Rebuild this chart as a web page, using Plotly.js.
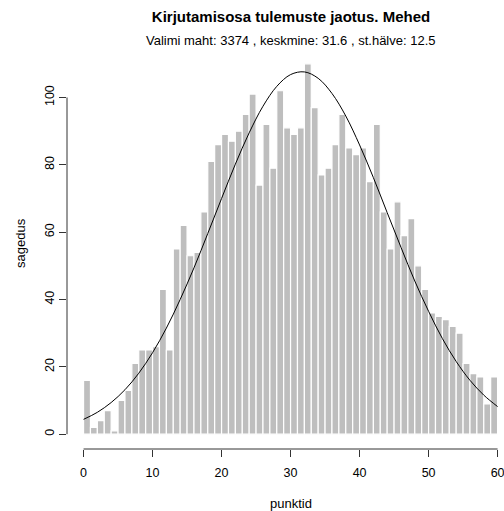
<!DOCTYPE html>
<html>
<head>
<meta charset="utf-8">
<script src="https://cdn.plot.ly/plotly-3.0.1.min.js"></script>
<style>html,body{margin:0;padding:0;background:#fff;}#chart{width:504px;height:511px;}</style>
</head>
<body>
<div id="chart"></div>
<script>
// Histogram bins: left edges (width 1 point each)
const binStart = [0,1,2,3,4,5,6,7,8,9,10,11,12,13,14,15,16,17,18,19,20,21,22,23,24,25,26,27,28,29,
                  30,31,32,33,34,35,36,37,38,39,40,41,42,43,44,45,46,47,48,49,50,51,52,53,54,55,56,57,58,59];
// Frequencies (sagedus); total 3374
const counts = [16,2,4,7,1,10,13,21,25,25,26,43,25,55,62,53,54,66,81,
                86,89,87,90,95,101,74,92,79,102,91,89,91,110,97,77,79,86,95,85,
                83,85,75,92,66,55,69,59,64,50,43,36,35,34,32,30,21,18,17,9,17];
// Fitted normal curve
const curveX = [0,2,4,6,8,10,12,14,16,18,20,22,24,26,28,30,32,34,36,38,40,42,44,46,48,50,52,54,56,58,60];
const curveY = [4.4,6.5,9.4,13.2,18.1,24.2,31.5,40.0,49.4,59.6,70.0,80.2,89.5,97.4,103.3,106.8,107.6,105.7,101.2,94.5,85.9,76.2,65.8,55.5,45.5,36.5,28.4,21.6,16.0,11.6,8.2];
const xTicks = [0,10,20,30,40,50,60];
const yTicks = [0,20,40,60,80,100];
const titleText = "Kirjutamisosa tulemuste jaotus. Mehed";
const subtitleText = "Valimi maht: 3374 , keskmine: 31.6 , st.hälve: 12.5";
const xLabel = "punktid";
const yLabel = "sagedus";

const FONT = "Liberation Sans, Arial, sans-serif";

const traces = [
  {type:'bar', x:binStart, y:counts, offset:0, width:1,
   marker:{color:'#BEBEBE', line:{color:'#FFFFFF', width:1.2}}, hoverinfo:'x+y'},
  {type:'scatter', mode:'lines', x:curveX, y:curveY, line:{color:'#000', width:1, shape:'spline'}}
];

const layout = {
  width:504, height:511,
  margin:{l:67, r:0, t:49, b:62, pad:0},
  paper_bgcolor:'#fff', plot_bgcolor:'#fff',
  showlegend:false,
  font:{family:FONT, size:12, color:'#000'},
  xaxis:{range:[-2.4, 60.93], tickvals:xTicks, ticktext:xTicks.map(String),
         ticks:'outside', ticklen:7, tickcolor:'#333', tickwidth:1, ticklabelstandoff:5,
         ticklabeloverflow:'allow',
         showgrid:false, zeroline:false, showline:false,
         tickfont:{family:FONT, size:12.5, color:'#000'}},
  yaxis:{range:[-4.4, 114.4], tickvals:yTicks, ticktext:yTicks.map(String),
         ticks:'outside', ticklen:7, tickcolor:'#333', tickwidth:1, tickangle:-90,
         ticklabeloverflow:'allow',
         showgrid:false, zeroline:false, showline:false,
         tickfont:{family:FONT, size:12.5, color:'#000'}},
  title:{text:'<b>'+titleText+'</b>', xref:'container', yref:'container', x:291/504, xanchor:'center',
         y:1-17/511, yanchor:'middle', font:{family:FONT, size:15, color:'#000'}},
  annotations:[
    {text:subtitleText, xref:'paper', yref:'paper', x:(291-67)/437, y:(449-41)/400,
     xanchor:'center', yanchor:'middle', showarrow:false, font:{family:FONT, size:13, color:'#000'}},
    {text:xLabel, xref:'paper', yref:'paper', x:(291-67)/437, y:(449-503)/400,
     xanchor:'center', yanchor:'middle', showarrow:false, font:{family:FONT, size:13, color:'#000'}},
    {text:yLabel, xref:'paper', yref:'paper', x:(20-67)/437, y:(449-243)/400,
     xanchor:'center', yanchor:'middle', textangle:-90, showarrow:false, font:{family:FONT, size:13, color:'#000'}}
  ],
  shapes:[
    {type:'line', xref:'x', yref:'paper', x0:0, x1:60, y0:0, y1:0, line:{color:'#333', width:1}},
    {type:'line', xref:'paper', yref:'y', x0:0, x1:0, y0:0, y1:100, line:{color:'#333', width:1}}
  ]
};

Plotly.newPlot('chart', traces, layout, {displayModeBar:false, staticPlot:true});
</script>
</body>
</html>
